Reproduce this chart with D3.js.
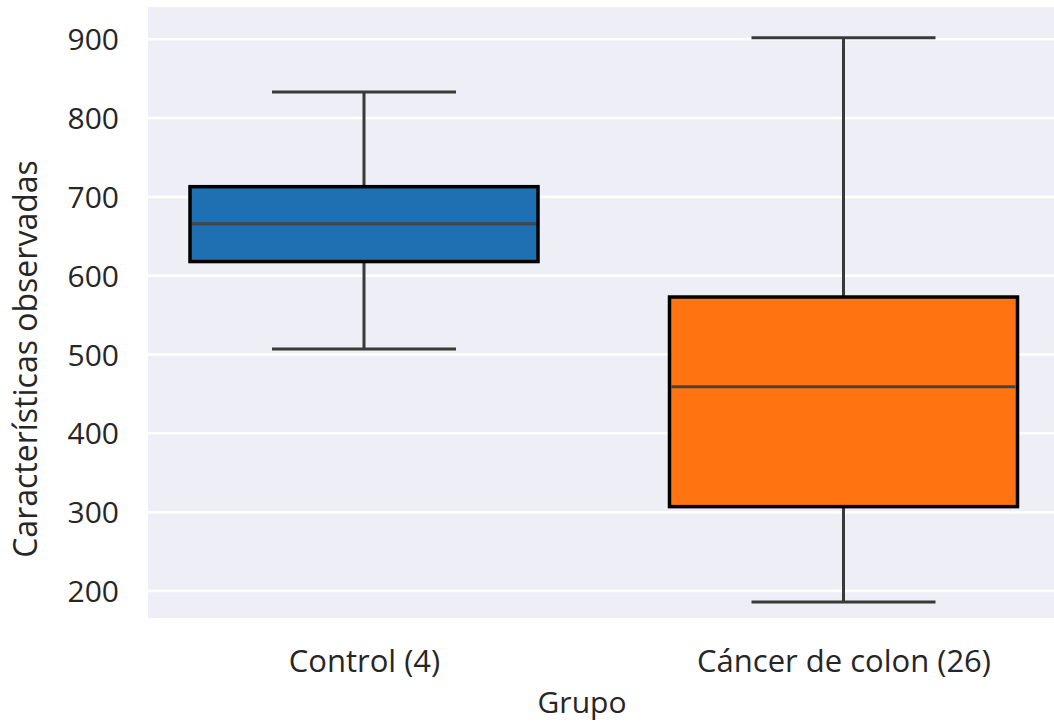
<!DOCTYPE html>
<html>
<head>
<meta charset="utf-8">
<script src="https://cdn.jsdelivr.net/npm/d3@7"></script>
<style>
  html, body { margin: 0; padding: 0; background: #ffffff; }
  svg { display: block; }
  text { font-family: "Open Sans", "Noto Sans", sans-serif; fill: #262626; }
</style>
</head>
<body>
<svg id="chart" width="1054" height="724"></svg>
<script>
// Group labels and five-number summaries (whisker low, Q1, median, Q3, whisker high)
const groups = ["Control (4)", "Cáncer de colon (26)"];
const whiskerLow = [507, 186];
const q1 = [618, 307];
const median = [666, 459];
const q3 = [713, 573];
const whiskerHigh = [833, 902];
const fills = ["#1f70b2", "#ff7410"];
const yTicks = [200, 300, 400, 500, 600, 700, 800, 900];

const svg = d3.select("#chart");
const plot = { left: 148, right: 1054, top: 7, bottom: 618 };

const y = d3.scaleLinear().domain([165.7, 941]).range([plot.bottom, plot.top]);
const x = d3.scalePoint().domain(groups).range([364, 843.5]);
const boxWidth = 348;
const capWidth = 184;

// Plot background
svg.append("rect")
  .attr("x", plot.left).attr("y", plot.top)
  .attr("width", plot.right - plot.left).attr("height", plot.bottom - plot.top)
  .attr("fill", "#eeeef6");

// Horizontal grid lines
svg.append("g").selectAll("line").data(yTicks).join("line")
  .attr("x1", plot.left).attr("x2", plot.right)
  .attr("y1", d => y(d)).attr("y2", d => y(d))
  .attr("stroke", "#ffffff").attr("stroke-width", 2.5);

// Y axis tick labels
const yAxis = d3.axisLeft(y).tickValues(yTicks).tickSize(0).tickPadding(29);
svg.append("g").attr("transform", `translate(${plot.left},0)`).call(yAxis)
  .call(g => g.select(".domain").remove())
  .selectAll("text")
  .style("font-size", "30px").attr("fill", "#262626").attr("dy", "0.35em");

// X axis tick labels
const xAxis = d3.axisBottom(x).tickSize(0).tickPadding(32);
svg.append("g").attr("transform", `translate(0,${plot.bottom})`).call(xAxis)
  .call(g => g.select(".domain").remove())
  .selectAll("text")
  .style("font-size", "31px").attr("fill", "#262626").attr("dy", "0.71em");

// Axis titles
svg.append("text")
  .attr("x", 582).attr("y", 713)
  .attr("text-anchor", "middle").style("font-size", "30px")
  .text("Grupo");
svg.append("text")
  .attr("transform", "translate(37,359) rotate(-90)")
  .attr("text-anchor", "middle").style("font-size", "32px")
  .text("Características observadas");

// Boxes
const stats = groups.map((g, i) => ({
  g, lo: whiskerLow[i], q1: q1[i], med: median[i], q3: q3[i], hi: whiskerHigh[i], fill: fills[i]
}));
const box = svg.append("g").selectAll("g").data(stats).join("g");
const lineColor = "#393939";
const lineWidth = 3;

// Whisker stems
box.append("line")
  .attr("x1", d => x(d.g)).attr("x2", d => x(d.g))
  .attr("y1", d => y(d.hi)).attr("y2", d => y(d.q3))
  .attr("stroke", lineColor).attr("stroke-width", lineWidth);
box.append("line")
  .attr("x1", d => x(d.g)).attr("x2", d => x(d.g))
  .attr("y1", d => y(d.q1)).attr("y2", d => y(d.lo))
  .attr("stroke", lineColor).attr("stroke-width", lineWidth);
// Whisker caps
box.selectAll(".cap").data(d => [d.lo, d.hi].map(v => ({ g: d.g, v }))).join("line")
  .attr("class", "cap")
  .attr("x1", d => x(d.g) - capWidth / 2).attr("x2", d => x(d.g) + capWidth / 2)
  .attr("y1", d => y(d.v)).attr("y2", d => y(d.v))
  .attr("stroke", lineColor).attr("stroke-width", lineWidth);
// Interquartile box
box.append("rect")
  .attr("x", d => x(d.g) - boxWidth / 2).attr("width", boxWidth)
  .attr("y", d => y(d.q3)).attr("height", d => y(d.q1) - y(d.q3))
  .attr("fill", d => d.fill).attr("stroke", "#000000").attr("stroke-width", 3.5);
// Median
box.append("line")
  .attr("x1", d => x(d.g) - boxWidth / 2 + 2).attr("x2", d => x(d.g) + boxWidth / 2 - 2)
  .attr("y1", d => y(d.med)).attr("y2", d => y(d.med))
  .attr("stroke", "#444444").attr("stroke-width", lineWidth);
</script>
</body>
</html>
